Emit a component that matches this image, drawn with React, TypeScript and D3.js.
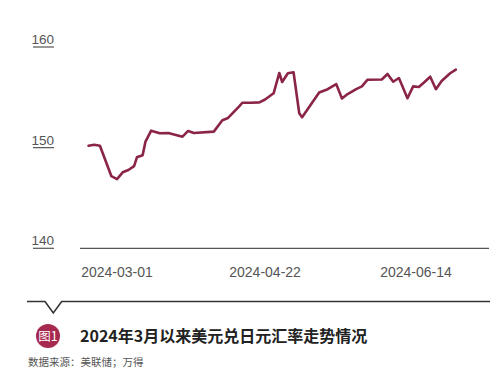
import React from "react";
import * as d3 from "d3";

const dates: string[] = [
  "2024-02-20","2024-02-22","2024-02-24","2024-02-28","2024-03-01","2024-03-03","2024-03-05","2024-03-07","2024-03-08","2024-03-10",
  "2024-03-11","2024-03-13","2024-03-16","2024-03-19","2024-03-24","2024-03-26","2024-03-28","2024-04-04","2024-04-07","2024-04-09",
  "2024-04-13","2024-04-14","2024-04-17","2024-04-20","2024-04-22","2024-04-25","2024-04-27","2024-04-28","2024-04-30","2024-05-02",
  "2024-05-04","2024-05-05","2024-05-11","2024-05-14","2024-05-17","2024-05-19","2024-05-21","2024-05-24","2024-05-26","2024-05-28",
  "2024-06-02","2024-06-04","2024-06-06","2024-06-08","2024-06-11","2024-06-13","2024-06-15","2024-06-17","2024-06-19","2024-06-21",
  "2024-06-23","2024-06-26","2024-06-28"
];
const rates: number[] = [
  150.19,150.29,150.19,147.18,146.88,147.55,147.78,148.17,149.04,149.24,
  150.6,151.69,151.43,151.46,151.09,151.66,151.46,151.59,152.72,152.95,
  154.13,154.46,154.46,154.5,154.78,155.4,157.42,156.52,157.39,157.49,
  153.42,153.02,155.48,155.81,156.31,154.89,155.33,155.82,156.09,156.75,
  156.77,157.32,156.55,156.92,154.91,156.09,156.02,156.52,157.05,155.81,
  156.62,157.39,157.75
];
const yTicks: number[] = [140, 150, 160];
const xTickLabels: string[] = ["2024-03-01", "2024-04-22", "2024-06-14"];
const title = "2024年3月以来美元兑日元汇率走势情况";
const badge = "图1";
const source = "数据来源：美联储；万得";

export default function App() {
  const W = 499, H = 373;
  const parse = d3.timeParse("%Y-%m-%d");
  const x = d3.scaleTime()
    .domain([parse("2024-03-01")!, parse("2024-06-14")!])
    .range([117, 416]);
  const y = d3.scaleLinear().domain([140, 160]).range([248.3, 47]);
  const pts = dates.map((d, i) => [parse(d)!, rates[i]] as [Date, number]);
  const line = d3.line<[Date, number]>()
    .x(d => x(d[0]))
    .y(d => y(d[1]));
  const latin = "'Liberation Sans', Arial, sans-serif";
  const cjk = "'Noto Sans CJK SC', 'Liberation Sans', sans-serif";
  const sepY = 301.5;
  return (
    <svg width={W} height={H} style={{ position: "absolute", left: 0, top: 0, background: "#fff" }}>
      {yTicks.map(t => (
        <g key={t}>
          <text x={54} y={y(t) - 3} textAnchor="end" fontFamily={latin} fontSize={13.5} fill="#555">{t}</text>
          <line x1={33} x2={54} y1={y(t)} y2={y(t)} stroke="#555" strokeWidth={1.2} />
        </g>
      ))}
      <line x1={80} x2={489} y1={y(140)} y2={y(140)} stroke="#555" strokeWidth={1.2} />
      {xTickLabels.map(l => (
        <text key={l} x={x(parse(l)!)} y={276.5} textAnchor="middle" fontFamily={latin} fontSize={14} fill="#555">{l}</text>
      ))}
      <path d={line(pts) ?? ""} fill="none" stroke="#8b2547" strokeWidth={2.6} strokeLinejoin="round" strokeLinecap="round" />
      <path d={`M27,${sepY} H45 L53.3,${sepY + 11.5} L61.7,${sepY} H490`} fill="none" stroke="#333" strokeWidth={1.6} />
      <circle cx={48} cy={336} r={12} fill="#a6294f" />
      <text x={48} y={341} textAnchor="middle" fontFamily={cjk} fontSize={12.5} fill="#fff">{badge}</text>
      <text x={80} y={342} fontFamily={cjk} fontSize={16} fontWeight={700} fill="#222">{title}</text>
      <text x={28} y={366} fontFamily={cjk} fontSize={10.5} fill="#555">{source}</text>
    </svg>
  );
}
